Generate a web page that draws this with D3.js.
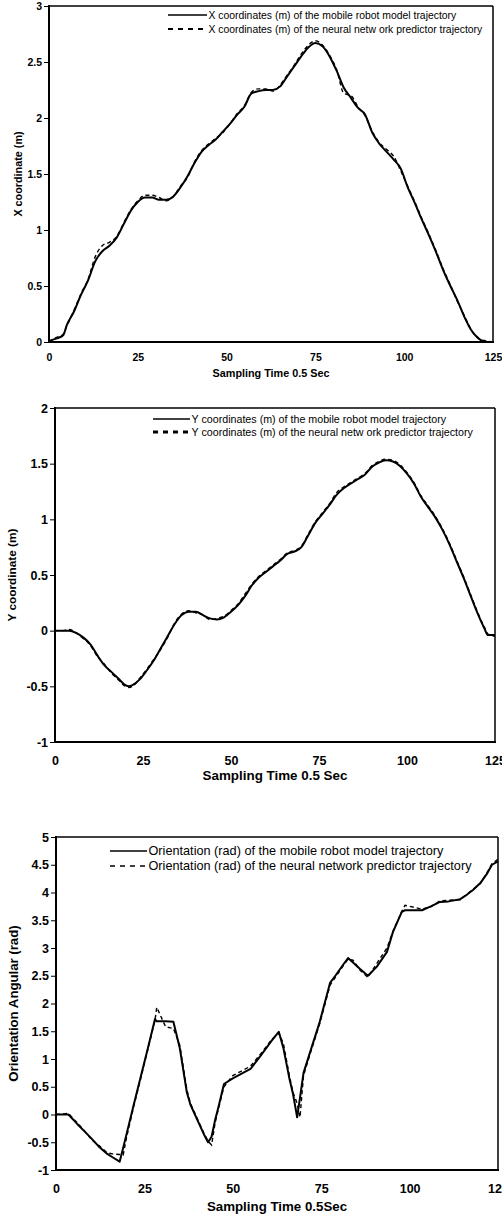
<!DOCTYPE html>
<html>
<head>
<meta charset="utf-8">
<script src="https://cdn.jsdelivr.net/npm/d3@7"></script>
<style>
  body { margin: 0; background: #fff; }
  svg { display: block; overflow: hidden; }
</style>
</head>
<body>
<svg width="502" height="1215"></svg>
<script>
// sampling instants (0.5 s steps) and values
var xTime = [0,2,4,5,7,9,11,13,15,17,19,21,23,25,27,29,31,33,35,37,39,41,43,45,47,49,51,53,55,57,59,61,63,65,67,69,71,73,75,77,79,81,83,85,87,89,91,93,95,97,99,101,103,105,107,109,111,113,115,117,119,121,123,125]
var xModel = [0.01,0.03,0.06,0.15,0.27,0.42,0.55,0.72,0.81,0.86,
    0.93,1.05,1.17,1.25,1.29,1.29,1.27,1.27,1.3,1.38,
    1.48,1.6,1.7,1.76,1.81,1.88,1.95,2.03,2.1,2.22,
    2.24,2.25,2.25,2.28,2.37,2.46,2.55,2.63,2.67,2.64,
    2.55,2.42,2.27,2.18,2.09,2.03,1.87,1.77,1.7,1.63,
    1.55,1.38,1.24,1.09,0.95,0.8,0.64,0.5,0.37,0.22,
    0.1,0.03,0.0,0.0]
var xPredict = [0.0,0.04,0.07,0.14,0.28,0.43,0.56,0.76,0.86,0.89,
    0.94,1.06,1.18,1.26,1.31,1.31,1.29,1.26,1.3,1.39,
    1.47,1.61,1.71,1.77,1.82,1.87,1.95,2.04,2.11,2.23,
    2.26,2.26,2.24,2.29,2.38,2.47,2.57,2.65,2.69,2.65,
    2.56,2.43,2.22,2.2,2.1,2.02,1.88,1.78,1.72,1.66,
    1.53,1.39,1.25,1.1,0.96,0.81,0.65,0.51,0.36,0.23,
    0.1,0.03,0.01,0.0]

var yTime = [0,2,4,6,8,10,12,14,16,18,20,21,22,24,26,28,30,32,34,36,38,40,42,44,46,48,50,52,54,56,58,60,62,64,66,68,70,72,74,76,78,80,82,84,86,88,90,92,94,96,98,100,102,104,106,108,110,112,114,116,118,120,122,123,125]
var yModel = [0,0,0,-0.02,-0.06,-0.12,-0.22,-0.31,-0.37,-0.43,
    -0.49,-0.5,-0.49,-0.44,-0.36,-0.27,-0.16,-0.05,0.06,0.14,
    0.17,0.17,0.14,0.11,0.1,0.12,0.17,0.23,0.31,0.41,
    0.48,0.53,0.58,0.63,0.69,0.71,0.75,0.86,0.97,1.05,
    1.13,1.22,1.28,1.32,1.36,1.4,1.47,1.51,1.53,1.52,
    1.48,1.41,1.32,1.2,1.11,1.02,0.91,0.78,0.63,0.48,
    0.32,0.16,0.02,-0.04,-0.04]
var yPredict = [0,0,0.01,-0.02,-0.07,-0.13,-0.23,-0.3,-0.38,-0.44,
    -0.5,-0.51,-0.5,-0.43,-0.35,-0.26,-0.17,-0.06,0.07,0.15,
    0.18,0.16,0.14,0.1,0.11,0.13,0.18,0.24,0.33,0.42,
    0.49,0.54,0.59,0.64,0.7,0.72,0.76,0.87,0.98,1.06,
    1.14,1.24,1.29,1.33,1.37,1.41,1.48,1.52,1.54,1.53,
    1.49,1.42,1.33,1.21,1.12,1.03,0.92,0.79,0.64,0.49,
    0.33,0.17,0.03,-0.03,-0.05]

var thetaTime = [0,3.5,6,8,10,12,14.5,16,18,19,20,22,24,26,27,28,28.5,31,33.2,35,37,38,40,42,43,44,45,46,47.5,50,55,58,61,63,64.3,66,67,68.2,69,70,72,74.5,77.5,79,81,82.6,84,86,88.2,90.7,93.6,95.3,97.8,98.7,103.5,106,108.6,111,114.3,116,118,120,122,123.3,125]
var thetaModel = [0,0,-0.17,-0.3,-0.43,-0.57,-0.71,-0.77,-0.85,-0.6,
    -0.34,0.18,0.69,1.2,1.46,1.72,1.68,1.68,1.67,1.2,
    0.4,0.18,-0.1,-0.38,-0.5,-0.4,-0.1,0.15,0.55,0.65,
    0.82,1.07,1.33,1.49,1.2,0.65,0.38,-0.05,0.3,0.75,
    1.15,1.65,2.37,2.5,2.68,2.82,2.74,2.62,2.5,2.66,
    2.93,3.29,3.65,3.68,3.68,3.75,3.83,3.84,3.88,3.95,
    4.05,4.17,4.35,4.5,4.56]
var thetaPredict = [0,0.02,-0.15,-0.29,-0.45,-0.55,-0.69,-0.71,-0.72,-0.73,
    -0.4,0.15,0.66,1.18,1.44,1.7,1.93,1.58,1.55,1.25,
    0.45,0.2,-0.08,-0.36,-0.48,-0.55,-0.15,0.12,0.5,0.7,
    0.87,1.1,1.35,1.47,1.28,0.7,0.4,0.2,-0.05,0.7,
    1.12,1.62,2.33,2.47,2.66,2.8,2.78,2.6,2.47,2.72,
    3.0,3.3,3.66,3.77,3.7,3.74,3.85,3.86,3.87,3.96,
    4.06,4.16,4.37,4.52,4.6]

var timeTicks = [0,25,50,75,100,125]
var xTicks = [0,0.5,1,1.5,2,2.5,3]
var yTicks = [-1,-0.5,0,0.5,1,1.5,2]
var thetaTicks = [-1,-0.5,0,0.5,1,1.5,2,2.5,3,3.5,4,4.5,5]

var xLegend = ["X coordinates (m) of the mobile robot model trajectory",
    "X coordinates (m) of the neural netw ork predictor trajectory"]
var yLegend = ["Y coordinates (m) of the mobile robot model trajectory",
    "Y coordinates (m) of the neural netw ork predictor trajectory"]
var thetaLegend = ["Orientation (rad) of the mobile robot model trajectory",
    "Orientation (rad) of the neural network predictor trajectory"]

var FONT = "'Liberation Sans', Arial, sans-serif"
var svg = d3.select("svg")

drawChart({
    time: xTime, model: xModel, predict: xPredict,
    yDomain: [0,3], yTicks: xTicks, legend: xLegend,
    left: 49, right: 493, top: 6, bottom: 342,
    tickFont: 10.5, xTickY: 361, titleFont: 10.8, titleY: 377,
    yTitle: "X coordinate (m)", yTitleX: 18, yTitleFont: 10.8,
    title: "Sampling Time 0.5 Sec",
    legX: [168, 207], legY: [15, 29], legFont: 10.4, legDashW: 2,
    curve: d3.curveMonotoneX
})

drawChart({
    time: yTime, model: yModel, predict: yPredict,
    yDomain: [-1,2], yTicks: yTicks, legend: yLegend,
    left: 55, right: 495, top: 408, bottom: 742,
    tickFont: 12.5, xTickY: 765, titleFont: 13.4, titleY: 780,
    yTitle: "Y coordinate (m)", yTitleX: 12, yTitleFont: 11.8,
    title: "Sampling Time 0.5 Sec",
    legX: [153, 190], legY: [419, 432], legFont: 10.7, legDashW: 3,
    curve: d3.curveMonotoneX
})

drawChart({
    time: thetaTime, model: thetaModel, predict: thetaPredict,
    yDomain: [-1,5], yTicks: thetaTicks, legend: thetaLegend,
    left: 56, right: 498, top: 837, bottom: 1170,
    tickFont: 12.5, xTickY: 1193, titleFont: 13.3, titleY: 1211,
    yTitle: "Orientation Angular (rad)", yTitleX: 13, yTitleFont: 13.2,
    title: "Sampling Time 0.5Sec",
    legX: [110, 147], legY: [851, 866], legFont: 12.7, legDashW: 1.6,
    curve: d3.curveLinear
})

function drawChart(c){
    var g = svg.append("g")

    var x = d3.scaleLinear().domain([0,125]).range([c.left, c.right])
    var y = d3.scaleLinear().domain(c.yDomain).range([c.bottom, c.top])

    // x axis: labels only, no tick marks
    var xAxis = g.append("g")
        .attr("transform", "translate(0," + c.bottom + ")")
        .call(d3.axisBottom(x).tickValues(timeTicks).tickSize(0).tickFormat(d3.format("d")))
    xAxis.select(".domain").remove()
    xAxis.selectAll("text")
        .attr("y", c.xTickY - c.bottom).attr("dy", 0)
        .attr("font-family", FONT).attr("font-size", c.tickFont)
        .attr("font-weight", "bold").attr("fill", "#000")

    var yAxis = g.append("g")
        .attr("transform", "translate(" + c.left + ",0)")
        .call(d3.axisLeft(y).tickValues(c.yTicks).tickSize(5).tickPadding(2).tickFormat(function(d){ return String(d) }))
    yAxis.select(".domain").remove()
    yAxis.selectAll("line").attr("stroke", "#000").attr("stroke-width", 1)
    yAxis.selectAll("text")
        .attr("font-family", FONT).attr("font-size", c.tickFont)
        .attr("font-weight", "bold").attr("fill", "#000")

    // plot frame
    g.append("line").attr("x1", c.left).attr("x2", c.right).attr("y1", c.top).attr("y2", c.top)
        .attr("stroke", "#000").attr("stroke-width", 1.5)
    g.append("line").attr("x1", c.right).attr("x2", c.right).attr("y1", c.top).attr("y2", c.bottom)
        .attr("stroke", "#000").attr("stroke-width", 1.5)
    g.append("line").attr("x1", c.left).attr("x2", c.left).attr("y1", c.top - 1).attr("y2", c.bottom + 1)
        .attr("stroke", "#000").attr("stroke-width", 2)
    g.append("line").attr("x1", c.left).attr("x2", c.right + 1).attr("y1", c.bottom).attr("y2", c.bottom)
        .attr("stroke", "#000").attr("stroke-width", 2)

    var points = function(vals){
        return c.time.map(function(t, i){ return {t: t, v: vals[i]} })
    }
    var valueLine = d3.line()
        .x(function(d){ return x(d.t) })
        .y(function(d){ return y(d.v) })
        .curve(c.curve)

    g.append("path")
        .datum(points(c.model))
        .attr("fill", "none").attr("stroke", "#000").attr("stroke-width", 2)
        .attr("stroke-linejoin", "round")
        .attr("d", valueLine)
    g.append("path")
        .datum(points(c.predict))
        .attr("fill", "none").attr("stroke", "#000").attr("stroke-width", 1.4)
        .attr("stroke-dasharray", "4,3")
        .attr("d", valueLine)

    // legend
    g.append("line").attr("x1", c.legX[0]).attr("x2", c.legX[1])
        .attr("y1", c.legY[0]).attr("y2", c.legY[0])
        .attr("stroke", "#000").attr("stroke-width", 1.6)
    g.append("line").attr("x1", c.legX[0]).attr("x2", c.legX[1])
        .attr("y1", c.legY[1]).attr("y2", c.legY[1])
        .attr("stroke", "#000").attr("stroke-width", c.legDashW)
        .attr("stroke-dasharray", "5,5")
    c.legend.forEach(function(txt, i){
        g.append("text")
            .attr("x", c.legX[1] + 1.5).attr("y", c.legY[i]).attr("dy", "0.35em")
            .attr("font-family", FONT).attr("font-size", c.legFont)
            .attr("fill", "#000")
            .text(txt)
    })

    // axis titles
    g.append("text")
        .attr("x", (c.left + c.right) / 2).attr("y", c.titleY)
        .attr("text-anchor", "middle")
        .attr("font-family", FONT).attr("font-size", c.titleFont).attr("font-weight", "bold")
        .text(c.title)
    g.append("text")
        .attr("transform", "translate(" + c.yTitleX + "," + (c.top + c.bottom) / 2 + ") rotate(-90)")
        .attr("text-anchor", "middle").attr("dy", "0.35em")
        .attr("font-family", FONT).attr("font-size", c.yTitleFont).attr("font-weight", "bold")
        .text(c.yTitle)
}
</script>
</body>
</html>
